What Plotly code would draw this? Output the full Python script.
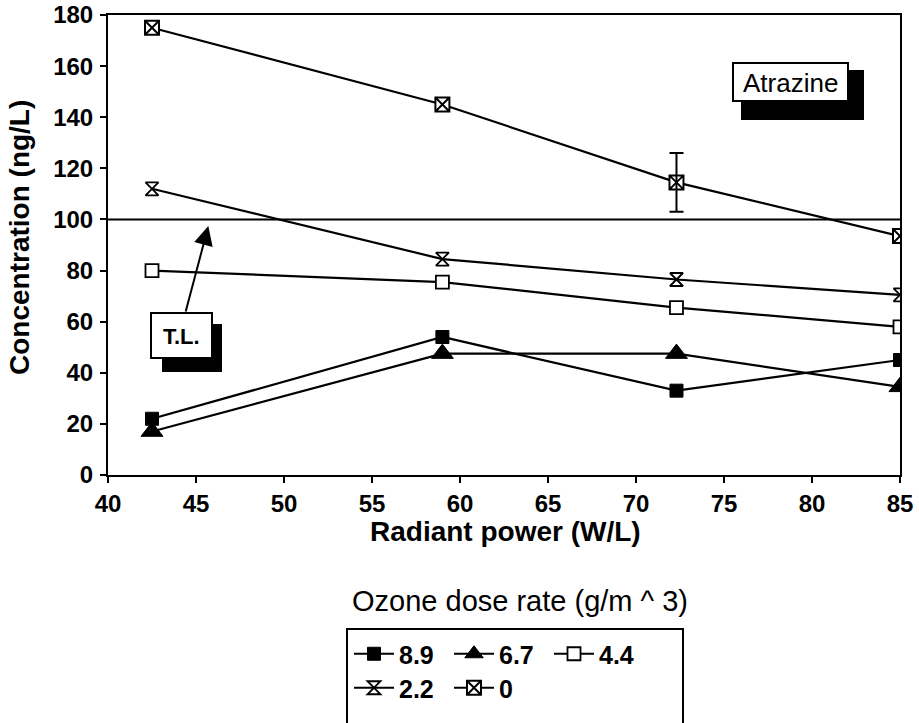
import plotly.graph_objects as go

# ---- data ----
radiant_power = [42.5, 59.0, 72.3, 85.0]
series_names = ["8.9", "6.7", "4.4", "2.2", "0"]
conc_8_9 = [22, 54, 33, 45]
conc_6_7 = [17, 47.5, 47.5, 34.5]
conc_4_4 = [80, 75.5, 65.5, 58]
conc_2_2 = [112, 84.5, 76.5, 70.5]
conc_0 = [175, 145, 114.5, 93.5]
err_index = 2
err_value = 11.5
threshold = 100
x_ticks = [40, 45, 50, 55, 60, 65, 70, 75, 80, 85]
y_ticks = [0, 20, 40, 60, 80, 100, 120, 140, 160, 180]

FONT = "Liberation Sans"
W, H = 919, 723
ML, MR, MT, MB = 108, 19, 15, 248
PW, PH = W - ML - MR, H - MT - MB


def px(x):
    return (x - ML) / PW


def py(y):
    return (H - MB - y) / PH


series = [
    (series_names[0], conc_8_9, dict(symbol="square", size=13, color="black", line=dict(color="black", width=1)), "legend"),
    (series_names[1], conc_6_7, dict(symbol="triangle-up", size=19, color="black", line=dict(color="black", width=1)), "legend"),
    (series_names[2], conc_4_4, dict(symbol="square", size=13, color="white", line=dict(color="black", width=1.8)), "legend"),
    (series_names[3], conc_2_2, dict(symbol="hourglass", size=13, color="white", line=dict(color="black", width=1.8)), "legend2"),
    (series_names[4], conc_0, dict(symbol="square-x", size=14, color="white", line=dict(color="black", width=2)), "legend2"),
]

fig = go.Figure()
for name, vals, marker, leg in series:
    fig.add_trace(go.Scatter(
        x=radiant_power, y=vals, name=name, mode="lines+markers",
        line=dict(color="black", width=2.2), marker=marker, legend=leg,
    ))

# error bar on the 0 series
fig.add_trace(go.Scatter(
    x=[radiant_power[err_index]], y=[conc_0[err_index]], mode="markers",
    marker=dict(size=1, color="rgba(0,0,0,0)"), showlegend=False,
    error_y=dict(type="data", array=[err_value], width=7, thickness=2, color="black"),
))

axis_common = dict(
    showgrid=False, zeroline=False, showline=True, linecolor="black", linewidth=2,
    mirror=True, ticks="outside", ticklen=6, tickwidth=2, tickcolor="black",
    tickfont=dict(family=FONT, size=24, color="black", weight="bold"),
)
fig.update_xaxes(range=[40, 85], tickvals=x_ticks, **axis_common)
fig.update_yaxes(range=[0, 180], tickvals=y_ticks, ticklabelstandoff=2, **axis_common)

shapes = [
    # threshold line
    dict(type="line", xref="x", yref="y", x0=40, x1=85, y0=threshold, y1=threshold,
         line=dict(color="black", width=2), layer="below"),
    # Atrazine box shadow + box
    dict(type="rect", xref="paper", yref="paper", x0=px(741), x1=px(864), y0=py(70), y1=py(120),
         fillcolor="black", line=dict(width=0)),
    dict(type="rect", xref="paper", yref="paper", x0=px(733), x1=px(848), y0=py(63), y1=py(101),
         fillcolor="white", line=dict(color="black", width=2)),
    # T.L. box shadow + box
    dict(type="rect", xref="paper", yref="paper", x0=px(162), x1=px(222), y0=py(324), y1=py(372),
         fillcolor="black", line=dict(width=0)),
    dict(type="rect", xref="paper", yref="paper", x0=px(151), x1=px(212), y0=py(313), y1=py(358),
         fillcolor="white", line=dict(color="black", width=2)),
    # legend frame
    dict(type="rect", xref="paper", yref="paper", x0=px(347), x1=px(683), y0=py(629), y1=py(760),
         fillcolor="rgba(0,0,0,0)", line=dict(color="black", width=2)),
]

ann_common = dict(xref="paper", yref="paper", showarrow=False, xanchor="center", yanchor="middle")
annotations = [
    dict(x=px(790), y=py(83), text="Atrazine",
         font=dict(family=FONT, size=26, color="black"), **ann_common),
    dict(x=px(181), y=py(336), text="<b>T.L.</b>",
         font=dict(family=FONT, size=22, color="black"), **ann_common),
    dict(xref="x", yref="y", x=45.7, y=97.4, ax=-23, ay=87, text="", showarrow=True,
         arrowhead=2, arrowsize=1.9, arrowwidth=2, arrowcolor="black", standoff=0),
    dict(x=px(506), y=py(531), text="<b>Radiant power (W/L)</b>",
         font=dict(family=FONT, size=28, color="black"), **ann_common),
    dict(x=px(19), y=py(238), text="<b>Concentration (ng/L)</b>", textangle=-90,
         font=dict(family=FONT, size=28, color="black"), **ann_common),
    dict(x=px(520), y=py(601), text="Ozone dose rate (g/m ^ 3)",
         font=dict(family=FONT, size=29, color="black"), **ann_common),
]

legend_common = dict(
    orientation="h", bgcolor="rgba(0,0,0,0)", borderwidth=0, xanchor="left", yanchor="middle",
    font=dict(family=FONT, size=25, color="black", weight="bold"), entrywidth=45,
    itemwidth=40, tracegroupgap=0,
)

fig.update_layout(
    width=W, height=H, margin=dict(l=ML, r=MR, t=MT, b=MB, autoexpand=False),
    paper_bgcolor="white", plot_bgcolor="white",
    shapes=shapes, annotations=annotations,
    legend=dict(x=px(349), y=py(654), **legend_common),
    legend2=dict(x=px(349), y=py(688), **legend_common),
    showlegend=True,
)

fig.write_html("out.html")
